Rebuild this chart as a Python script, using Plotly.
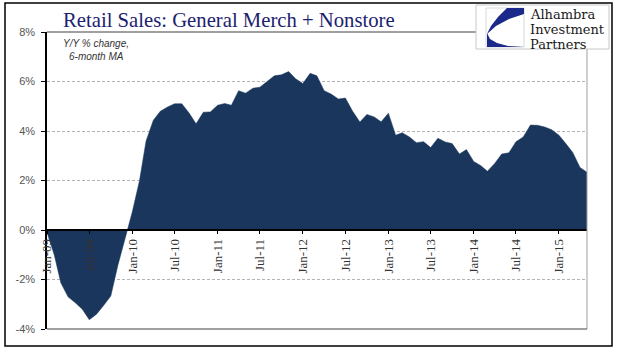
import plotly.graph_objects as go
import pandas as pd

# ---- data ----
start_month = "2009-01-01"
yoy_6m_ma = [-0.1, -1.0, -2.13, -2.7, -2.93, -3.2, -3.63, -3.4, -3.04, -2.67,
             -1.4, -0.3, 0.73, 2.0, 3.6, 4.43, 4.8, 4.97, 5.1, 5.1,
             4.73, 4.29, 4.76, 4.77, 5.04, 5.11, 5.04, 5.63, 5.53, 5.73,
             5.77, 6.0, 6.23, 6.27, 6.4, 6.11, 5.92, 6.33, 6.23, 5.63,
             5.49, 5.29, 5.33, 4.8, 4.36, 4.67, 4.57, 4.37, 4.72, 3.83,
             3.93, 3.76, 3.53, 3.57, 3.33, 3.71, 3.56, 3.49, 3.07, 3.25,
             2.77, 2.6, 2.37, 2.69, 3.07, 3.12, 3.57, 3.76, 4.24, 4.23,
             4.16, 4.05, 3.83, 3.47, 3.13, 2.53, 2.33]
months = pd.date_range(start_month, periods=len(yoy_6m_ma), freq="MS")
y_ticks = [-4, -2, 0, 2, 4, 6, 8]
y_tick_labels = ["-4%", "-2%", "0%", "2%", "4%", "6%", "8%"]
title_text = "Retail Sales: General Merch + Nonstore"
subtitle_lines = ["Y/Y % change,", "6-month MA"]
logo_lines = ["Alhambra", "Investment", "Partners"]

# ---- geometry ----
W, H = 629, 358
L, R, T, B = 47, 587, 32, 329
navy = "#1b365d"


def px(x):
    return (x - L) / (R - L)


def py(y):
    return (B - y) / (B - T)


fig = go.Figure()
fig.add_trace(go.Scatter(
    x=months, y=yoy_6m_ma, mode="lines", fill="tozeroy",
    line=dict(color=navy, width=0.5), fillcolor=navy,
    hoverinfo="skip", showlegend=False))

fig.update_layout(
    width=W, height=H,
    margin=dict(l=L, r=W - R, t=T, b=H - B, pad=0),
    paper_bgcolor="white", plot_bgcolor="white",
    showlegend=False,
    xaxis=dict(
        type="date",
        range=[months[0], months[-1]],
        anchor="free", position=4 / 12,
        showline=True, linecolor="black", linewidth=1.5,
        showgrid=False, zeroline=False,
        ticks="outside", ticklen=3, tickcolor="black", tickwidth=1,
        tick0=start_month, dtick="M6", tickformat="%b-%y",
        tickangle=-90,
        tickfont=dict(family="Liberation Serif", size=13, color="#333333"),
    ),
    yaxis=dict(
        range=[-4, 8], domain=[0, 1],
        tickvals=y_ticks, ticktext=y_tick_labels,
        showline=True, linecolor="black", linewidth=1.5,
        ticks="outside", ticklen=4, tickcolor="black",
        showgrid=True, gridcolor="#b4b4b4", gridwidth=1, griddash="3px,2px",
        zeroline=False,
        ticklabelstandoff=4,
        tickfont=dict(family="Liberation Sans", size=11, color="#555555"),
    ),
)

shapes = []
# outer frame
shapes.append(dict(type="rect", xref="paper", yref="paper",
                   x0=px(5), x1=px(612), y0=py(346), y1=py(3),
                   line=dict(color="black", width=1.5), layer="above"))
# plot top line (title underline)
shapes.append(dict(type="line", xref="paper", yref="paper",
                   x0=px(L), x1=px(476), y0=py(32), y1=py(32),
                   line=dict(color="#808080", width=1.5)))
# right border
shapes.append(dict(type="line", xref="paper", yref="paper",
                   x0=1, x1=1, y0=0, y1=py(49),
                   line=dict(color="#a0a0a0", width=1)))
# bottom border
shapes.append(dict(type="line", xref="paper", yref="paper",
                   x0=0, x1=1, y0=0, y1=0,
                   line=dict(color="#808080", width=1.5)))
# logo box
shapes.append(dict(type="rect", xref="paper", yref="paper",
                   x0=px(476), x1=px(609), y0=py(49), y1=py(5),
                   line=dict(color="#c8c8c8", width=1), fillcolor="white"))


def path(points):
    s = "M " + " L ".join(f"{px(a):.5f},{py(b):.5f}" for a, b in points) + " Z"
    return s


# logo graphic (approximation)
shapes.append(dict(type="rect", xref="paper", yref="paper",
                   x0=px(486), x1=px(524), y0=py(47), y1=py(8),
                   line=dict(color="#d8d8d8", width=1), fillcolor="white"))
shapes.append(dict(type="path", xref="paper", yref="paper",
                   path=path([(524, 8), (507, 8), (498, 17), (491, 26), (487, 34),
                              (496, 26), (509, 19), (524, 14)]),
                   fillcolor="#1b2a8a", line=dict(width=0)))
shapes.append(dict(type="path", xref="paper", yref="paper",
                   path=path([(487, 33), (490, 39), (497, 43), (508, 46), (524, 47),
                              (487, 47)]),
                   fillcolor="#1b2a8a", line=dict(width=0)))
fig.update_layout(shapes=shapes)

ann = []
ann.append(dict(text=title_text, xref="paper", yref="paper",
                x=px(61), y=py(20), xanchor="left", yanchor="middle",
                showarrow=False,
                font=dict(family="Liberation Serif", size=20.7, color="#1c2270")))
for i, line in enumerate(subtitle_lines):
    ann.append(dict(text=f"<i>{line}</i>", xref="paper", yref="paper",
                    x=px(96), y=py(43 + 14 * i), xanchor="center", yanchor="middle",
                    showarrow=False,
                    font=dict(family="Liberation Sans", size=10, color="#333333")))
for i, line in enumerate(logo_lines):
    ann.append(dict(text=line, xref="paper", yref="paper",
                    x=px(528), y=py(14 + 15.3 * i), xanchor="left", yanchor="middle",
                    showarrow=False,
                    font=dict(family="DejaVu Serif", size=13, color="#1a1a1a")))
fig.update_layout(annotations=ann)

fig.write_html("out.html", config={"displayModeBar": False},
               post_script="document.body.style.margin='0px';")
